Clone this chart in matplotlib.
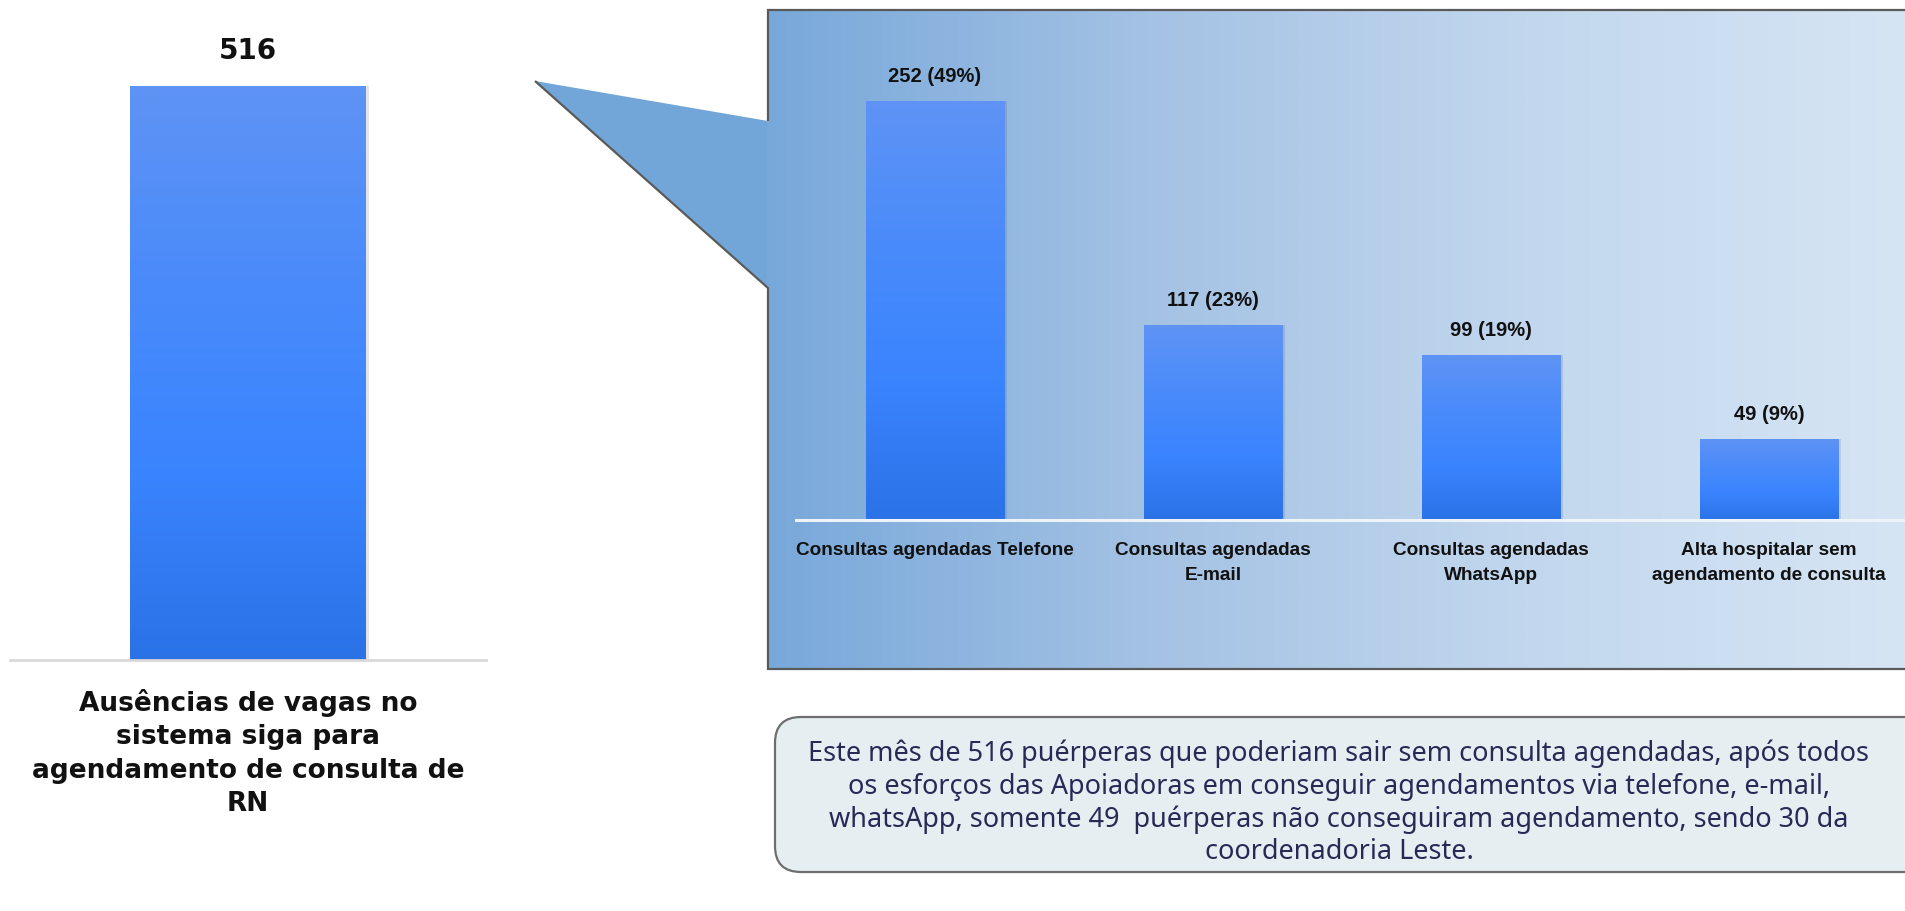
import numpy as np
import matplotlib
matplotlib.use("Agg")
import matplotlib.pyplot as plt
from matplotlib.patches import Polygon, FancyBboxPatch, Rectangle
from matplotlib.colors import LinearSegmentedColormap

# ---- data ----
total_label = ["Ausências de vagas no\nsistema siga para\nagendamento de consulta de\nRN"]
total_value = [516]

categories = ["Consultas agendadas Telefone", "Consultas agendadas\nE-mail",
              "Consultas agendadas\nWhatsApp", "Alta hospitalar sem\nagendamento de consulta"]
values = [252, 117, 99, 49]
percents = [49, 23, 19, 9]

note = ("Este mês de 516 puérperas que poderiam sair sem consulta agendadas, após todos\n"
        "os esforços das Apoiadoras em conseguir agendamentos via telefone, e-mail,\n"
        "whatsApp, somente 49  puérperas não conseguiram agendamento, sendo 30 da\n"
        "coordenadoria Leste.")

W, H = 1905, 911
fig = plt.figure(figsize=(W / 100, H / 100), dpi=100)
fig.patch.set_facecolor("white")

bar_cmap = LinearSegmentedColormap.from_list(
    "bar", ["#2A72E6", "#3A84FF", "#4A8BFA", "#5F93F5"])
panel_cmap = LinearSegmentedColormap.from_list(
    "panel", ["#78A8DA", "#A4C2E4", "#C2D7EE", "#D6E5F4"])


def px_axes(x0, y0, x1, y1, **kw):
    """Axes placed by pixel box (top-left origin)."""
    return fig.add_axes([x0 / W, 1 - y1 / H, (x1 - x0) / W, (y1 - y0) / H], **kw)


# ---- background layer: callout panel and note box ----
bg = px_axes(0, 0, W, H)
bg.set_xlim(0, W)
bg.set_ylim(H, 0)
bg.axis("off")

tri = Polygon([(535, 81), (768, 121), (768, 288)], closed=True,
              facecolor="#72A6D9", edgecolor="none", zorder=1)
bg.add_patch(tri)

grad = np.linspace(0, 1, 512).reshape(1, -1)
im = bg.imshow(grad, cmap=panel_cmap, extent=(767, W + 2, 669, 10),
               aspect="auto", zorder=1, interpolation="bilinear")
box = Rectangle((767, 10), W + 5 - 767, 659, transform=bg.transData,
                facecolor="none", edgecolor="none")
bg.add_patch(box)
im.set_clip_path(box)

outline = [(768, 121), (768, 10), (W + 5, 10), (W + 5, 669), (768, 669),
           (768, 288), (535, 81), (768, 121)]
bg.add_patch(Polygon(outline, closed=False, facecolor="none",
                     edgecolor="#5A5A5A", lw=1.6, zorder=2))

note_box = FancyBboxPatch((775, 717), W + 40 - 775, 155,
                          boxstyle="round,pad=0,rounding_size=26",
                          facecolor="#E5EFF2", edgecolor="#6E6E6E", lw=1.6, zorder=2)
bg.add_patch(note_box)
bg.text(1339, 803, note, ha="center", va="center", fontsize=19.5,
        family="Noto Sans", color="#262A55", linespacing=1.22, zorder=3)


def gradient_bars(ax, bars):
    for b in bars:
        x, y = b.get_x(), b.get_y()
        w, h = b.get_width(), b.get_height()
        b.set_facecolor("none")
        shade = Rectangle((x + w * 0.015, y), w, h, facecolor="#000000",
                          alpha=0.10, edgecolor="none", zorder=1)
        ax.add_patch(shade)
        g = ax.imshow(np.linspace(0, 1, 256).reshape(-1, 1), cmap=bar_cmap,
                      extent=(x, x + w, y, y + h), origin="lower",
                      aspect="auto", zorder=2, interpolation="bilinear")
        g.set_clip_path(b)


# ---- left chart: total ----
axL = px_axes(10, 86, 486, 660)
axL.patch.set_alpha(0)
barsL = axL.bar([0], total_value, width=0.99, zorder=2)
axL.set_xlim(-1, 1)
axL.set_ylim(0, max(total_value))
gradient_bars(axL, barsL)
for s in axL.spines.values():
    s.set_visible(False)
axL.axhline(0, color="#D9D9D9", lw=2, zorder=3, clip_on=False)
axL.set_yticks([])
axL.set_xticks([0])
axL.set_xticklabels(total_label, family="DejaVu Sans", fontweight="bold",
                    fontsize=19, linespacing=1.36, color="#111111")
axL.tick_params(axis="x", length=0, pad=21)
for b, v in zip(barsL, total_value):
    axL.text(b.get_x() + b.get_width() / 2, v + 19, f"{v}", ha="center",
             va="bottom", family="DejaVu Sans", fontweight="bold",
             fontsize=20, color="#111111")

# ---- right chart: breakdown ----
axR = px_axes(796, 101, 1908, 520)
axR.patch.set_alpha(0)
xs = np.arange(len(values))
barsR = axR.bar(xs, values, width=0.5, zorder=2)
axR.set_xlim(-0.5, len(values) - 0.5)
axR.set_ylim(0, max(values))
gradient_bars(axR, barsR)
for s in axR.spines.values():
    s.set_visible(False)
axR.axhline(0, color="#EEF3F8", lw=2.2, zorder=3, clip_on=False)
axR.set_yticks([])
axR.set_xticks(xs)
axR.set_xticklabels(categories, family="Liberation Sans", fontweight="bold",
                    fontsize=13.7, linespacing=1.6, color="#111111")
axR.tick_params(axis="x", length=0, pad=16)
for b, v, p in zip(barsR, values, percents):
    axR.text(b.get_x() + b.get_width() / 2, v + 9, f"{v} ({p}%)", ha="center",
             va="bottom", family="Liberation Sans", fontweight="bold",
             fontsize=14.5, color="#111111")

fig.savefig("out.png", dpi=100, facecolor="white")
